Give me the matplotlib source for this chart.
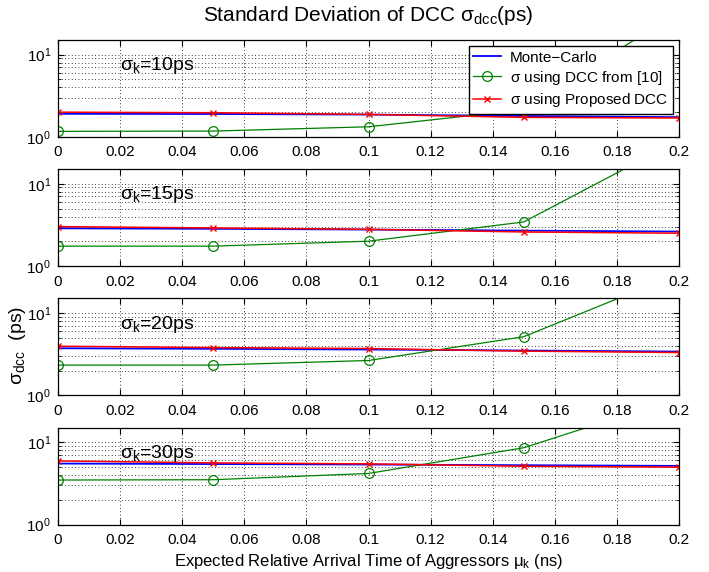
import matplotlib
matplotlib.use("Agg")
from matplotlib import pyplot as plt
from matplotlib.ticker import LogLocator, NullFormatter, FixedLocator

plt.rcParams['font.family'] = ['Liberation Sans', 'DejaVu Sans']
plt.rcParams['mathtext.fontset'] = 'custom'
plt.rcParams['mathtext.rm'] = 'Liberation Sans'
plt.rcParams['mathtext.it'] = 'Liberation Sans:italic'

# expected relative arrival time mu_k (ns)
mu = [0, 0.05, 0.1, 0.15, 0.2]
sigma_k = [10, 15, 20, 30]

# Monte-Carlo
mc = [[1.91, 1.90, 1.87, 1.80, 1.74],
      [2.88, 2.84, 2.78, 2.70, 2.63],
      [3.73, 3.67, 3.60, 3.50, 3.40],
      [5.50, 5.42, 5.35, 5.25, 5.15]]
# sigma using DCC from [10]
ref10 = [[1.17, 1.18, 1.33, 2.14, 33.0],
         [1.75, 1.75, 2.01, 3.44, 33.7],
         [2.33, 2.33, 2.65, 5.15, 29.9],
         [3.47, 3.50, 4.17, 8.55, 34.4]]
# sigma using proposed DCC
prop = [[2.00, 1.97, 1.88, 1.73, 1.70],
        [3.02, 2.91, 2.80, 2.60, 2.51],
        [3.95, 3.80, 3.70, 3.44, 3.31],
        [5.92, 5.60, 5.45, 5.10, 4.97]]

xticks = [0, 0.02, 0.04, 0.06, 0.08, 0.1, 0.12, 0.14, 0.16, 0.18, 0.2]
xticklabels = ['0', '0.02', '0.04', '0.06', '0.08', '0.1', '0.12', '0.14', '0.16', '0.18', '0.2']

W, H = 709, 572
fig = plt.figure(figsize=(W / 100, H / 100), dpi=100)

dots = (0, (1, 3))
left, right = 58, 679
for ii in range(4):
    top = 40 + 129.2 * ii
    bot = top + 97
    ax = fig.add_axes([left / W, 1 - bot / H, (right - left) / W, (bot - top) / H])

    ax.plot(mu, mc[ii], '-', c='#0000ff', lw=1.3, label='Monte\u2212Carlo')
    ax.plot(mu, ref10[ii], '-', c='#008000', lw=0.9, marker='o', ms=7, mfc='none',
            mec='#008000', mew=0.9, label=r'$\mathregular{\sigma}$ using DCC from [10]')
    ax.plot(mu, prop[ii], '-', c='#ff0000', lw=1.1, marker='x', ms=5, mew=1.0,
            label=r'$\mathregular{\sigma}$ using Proposed DCC')

    ax.set_yscale('log')
    ax.set_xlim(0, 0.2)
    ax.set_ylim(1, 15)
    ax.xaxis.set_major_locator(FixedLocator(xticks))
    ax.set_xticklabels(xticklabels)
    ax.yaxis.set_major_locator(FixedLocator([1, 10]))
    ax.yaxis.set_minor_locator(LogLocator(base=10, subs=range(2, 10)))
    ax.yaxis.set_minor_formatter(NullFormatter())
    ax.tick_params(direction='in', top=True, right=True, labelsize=11, length=4)
    ax.tick_params(axis='x', pad=6)
    ax.tick_params(axis='y', pad=5)
    ax.tick_params(which='minor', direction='in', right=True, length=2)
    ax.grid(True, which='major', ls=dots, c='black', lw=0.6)
    ax.grid(True, which='minor', axis='y', ls=dots, c='black', lw=0.6)
    for sp in ax.spines.values():
        sp.set_linewidth(0.9)

    ax.text(0.02, 7.3, r'$\mathregular{\sigma_k}$=%dps' % sigma_k[ii], fontsize=14, va='center')

    if ii == 0:
        ax.legend(loc='upper right', fontsize=11, frameon=True, fancybox=False,
                  edgecolor='black', framealpha=1, borderaxespad=0.4, handlelength=1.8,
                  handletextpad=0.6, labelspacing=0.27, borderpad=0.3)
    if ii == 3:
        ax.set_xlabel(r'Expected Relative Arrival Time of Aggressors $\mathregular{\mu_k}$ (ns)',
                      fontsize=12, labelpad=4)

# title placed by its baseline
fig.text((left + right) / 2 / W, 1 - 21 / H,
         r'Standard Deviation of DCC $\mathregular{\sigma_{dcc}}$(ps)',
         fontsize=15, ha='center', va='baseline')

fig.text(17 / W, 1 - 345 / H, r'$\mathregular{\sigma_{dcc}}$  (ps)', rotation=90,
         fontsize=14, ha='center', va='center')

fig.savefig('out.png', dpi=100)
